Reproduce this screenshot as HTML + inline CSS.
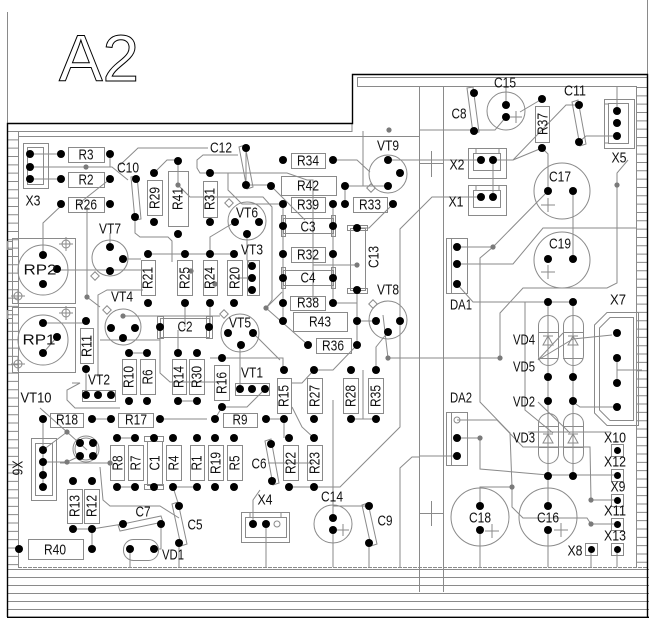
<!DOCTYPE html>
<html><head><meta charset="utf-8">
<style>
html,body{margin:0;padding:0;background:#fff;}
svg{display:block;}
.g{stroke:#8a8a8a;fill:none;stroke-width:1}
.k{stroke:#000;fill:none;stroke-width:1.4}
.p circle{fill:#000}
.v circle{fill:#7a7a7a}
text{font-family:"Liberation Sans",sans-serif;font-size:15px;fill:#111;text-anchor:middle;dominant-baseline:central}
</style></head><body>
<svg width="652" height="626" viewBox="0 0 652 626" xmlns="http://www.w3.org/2000/svg">
<rect width="652" height="626" fill="#fff"/>
<!-- frame -->
<g class="g">
<line x1="7.5" y1="12" x2="7.5" y2="123"/>
<line x1="647.5" y1="0" x2="647.5" y2="74"/>
<line x1="18.5" y1="131" x2="18.5" y2="567"/>
<line x1="636.5" y1="86" x2="636.5" y2="567"/>
<line x1="12.75" y1="131" x2="12.75" y2="567" stroke-width="11" stroke-dasharray="1 7.33"/>
<line x1="642" y1="87" x2="642" y2="567" stroke-width="11" stroke-dasharray="1 7.33"/>
<path d="M7,131.5 H352 V123 M18,136.5 H419"/>
<path d="M357.5,86 V77.5 H647 M357,86.5 H636"/>
<line x1="419.5" y1="86" x2="419.5" y2="592"/>
<line x1="443.5" y1="86" x2="443.5" y2="592"/>
<line x1="18" y1="567.5" x2="647" y2="567.5" stroke-dasharray="4 1"/>
<path d="M7,569.5 H649 M7,577.5 H649 M7,585.5 H649 M7,593.5 H649 M7,601.5 H649 M7,609.5 H649"/>
<path d="M419,163.5 H443 M431.5,151 V177 M419,513.5 H443 M431.5,501 V526"/>
</g>
<path class="k" d="M7.5,617 V123.5 H352.5 V74.5 H647.5 V617 M7,617.3 H649"/>

<!-- title -->
<text x="59" y="81" textLength="80" lengthAdjust="spacingAndGlyphs" style="font-size:66px;text-anchor:start;dominant-baseline:alphabetic;fill:none;stroke:#000;stroke-width:1">A2</text>

<!-- traces -->
<g class="g">
<path d="M30,154 H61 M30,179 H61 M30,167 H112 L128,180 M110,154 V167 M110,179 L77,205"/>
<path d="M120,165 L138,148 H208 M154,173 L167,160 H178 V185 L190,197 H263 L272,207 V300 L266,308"/>
<path d="M210,173 H200 L197,168 V160 L203,155 H238 M246,148 V185 H271 M210,173 H287 L307,180 H313 V300"/>
<path d="M228,173 V190 L242,204 H283 M271,186 L305,220 M333,160 H357 L370,172 M388,160 H481"/>
<path d="M345,186 V204 M345,186 H388 M393,204 L369,228 H357 M363,131 V186 M357,265 H313"/>
<path d="M283,204 V321 M333,204 V303 H357 V290 M357,290 V345 M357,321 H376"/>
<path d="M266,308 L308,345 M266,308 L282,292 M357,345 L333,370 H314 M314,370 L302,383 H291"/>
<path d="M388,332 L376,347 V370 M383,315 L388,358 H500 M210,358 H283 V370"/>
<path d="M400,321 V427 L340,487 H289 M352,419 H376 M363,370 V419 M333,400 V518 M266,419 H284 V438"/>
<path d="M314,438 L302,427 L292,407 M240,345 V389 M253,333 L280,360 M265,389 L247,407 H222 L215,419"/>
<path d="M62,205 L43,223 V255 M57,270 H148 M110,233 V247 M123,259 H141 M87,207 V297 L100,307"/>
<path d="M98,377 V295 L107,290 H143 M43,323 H86 M123,316 H220 M100,340 H160 M160,327 V373 L170,382 H220"/>
<path d="M178,330 V353 M57,337 L43,353 M86,370 V395 M129,353 H147 M178,401 H197"/>
<path d="M148,254 H234 M235,222 L210,237 V254 M247,234 V260 L252,266 M234,278 H252 M185,303 V327 M210,303 V327"/>
<path d="M135,217 V233 L140,237 H168 L172,241 V262"/>
<path d="M43,419 V487 M40,408 L67,432 L87,450 M67,432 L43,450 M43,462 H67 L80,456 M92,419 H111 M160,419 H207"/>
<path d="M60,463 H113 M117,438 H135 M117,487 H135 M173,487 H197 M73,529 H92 L123,524 M92,529 V549"/>
<path d="M100,467 L103,500 L110,506 H160 L179,518 M130,549 V567 M179,543 V567 M161,524 V549 H154 M173,487 L179,506"/>
<path d="M253,524 V500 L260,490 M266,524 V567 M333,530 V567 M369,543 V567 M369,506 H333 M268,463 H314"/>
<path d="M419,457 H412 L400,468 V567"/>
<path d="M420,160 H481 M493,160 V197 M481,197 H432 L400,229 V321"/>
<path d="M420,130 H495 L506,117 M506,105 V86 M520,112 L542,99 M493,160 H513 L566,105 H579 M542,148 L513,160"/>
<path d="M542,148 L548,154 V191 M579,142 L586,136 H617 M617,86 V111 M548,191 L493,247 H457 M493,247 L480,258 V402 L510,433 L512,487"/>
<path d="M573,191 V259 M457,264 H513 L543,228 H636 M628,160 L617,173 V283 L607,288 H523 L500,313 V358 M420,358 H500"/>
<path d="M457,284 L473,302 H573 M525,302 V410 L553,433 M548,302 V476 M573,302 V476 M612,335 L573,339 L538,360 M563,333 L538,360"/>
<path d="M573,402 L580,407 H617 M617,358 V383 M617,370 H642 M457,420 H497 L523,447 H590 L591,500 H617"/>
<path d="M457,438 H480 V469 L548,475 H617 M420,456 H457 M538,402 L570,433 M528,432 H611"/>
<path d="M512,487 H480 V506 M512,487 V507 L523,518 H587 L591,524 H617 M548,476 V506 M480,530 V567 M548,530 V567 M591,549 V567 M617,549 V567"/>
</g>

<!-- outlines -->
<g class="g">
<rect x="23.5" y="143.5" width="25" height="45"/><rect x="27.5" y="147.5" width="16" height="37"/>
<rect x="68.5" y="147.5" width="36" height="15"/><rect x="68.5" y="172.5" width="36" height="15"/><rect x="68.5" y="197.5" width="36" height="15"/>
<polygon points="131,177 137,176 141,219 135,220"/>
<rect x="147.5" y="180.5" width="15" height="35"/>
<rect x="168.5" y="171.5" width="20" height="55"/>
<rect x="203.5" y="181.5" width="14" height="36"/>
<polygon points="239,147 245,145 253,187 247,189"/>
<rect x="291.5" y="153.5" width="34" height="15"/>
<rect x="281.5" y="176.5" width="55" height="19"/>
<rect x="291.5" y="197.5" width="34" height="15"/>
<rect x="353.5" y="197.5" width="34" height="15"/>
<circle cx="388" cy="174" r="19"/><rect x="368" y="185" width="6" height="6" transform="rotate(45 371 188)"/>
<rect x="283.5" y="218.5" width="50" height="15"/><rect x="281.5" y="215.5" width="4" height="21"/><rect x="331.5" y="215.5" width="4" height="21"/>
<rect x="291.5" y="247.5" width="34" height="15"/>
<rect x="283.5" y="270.5" width="50" height="15"/><rect x="281.5" y="267.5" width="4" height="21"/><rect x="331.5" y="267.5" width="4" height="21"/>
<rect x="350.5" y="228.5" width="15" height="62"/><rect x="347.5" y="225.5" width="20" height="5"/><rect x="347.5" y="288.5" width="20" height="5"/>
<circle cx="247" cy="221" r="19"/><rect x="226" y="200" width="6" height="6" transform="rotate(45 229 203)"/>
<rect x="247.5" y="260.5" width="12" height="35"/>
<rect x="227.5" y="260.5" width="15" height="35"/>
<rect x="203.5" y="260.5" width="14" height="35"/>
<rect x="177.5" y="260.5" width="15" height="35"/>
<rect x="141.5" y="260.5" width="14" height="35"/>
<circle cx="110" cy="258" r="18"/><rect x="92" y="273" width="6" height="6" transform="rotate(45 95 276)"/>
<rect x="12.5" y="238.5" width="63" height="65"/><circle cx="43" cy="270" r="25"/><rect x="7.5" y="241.5" width="5" height="8"/>
<circle cx="66" cy="244" r="4"/><path d="M59,244 H73 M66,237 V251"/><circle cx="18" cy="296" r="4"/><path d="M11,296 H25 M18,289 V303"/>
<rect x="12.5" y="307.5" width="63" height="65"/><circle cx="43" cy="340" r="25"/><rect x="7.5" y="310.5" width="5" height="8"/>
<circle cx="66" cy="313" r="4"/><path d="M59,313 H73 M66,306 V320"/><circle cx="18" cy="364" r="4"/><path d="M11,364 H25 M18,357 V371"/>
<rect x="80.5" y="328.5" width="13" height="35"/>
<circle cx="123" cy="327" r="18"/><rect x="104" y="307" width="6" height="6" transform="rotate(45 107 310)"/>
<rect x="160.5" y="318.5" width="49" height="19"/><rect x="157.5" y="316.5" width="6" height="22"/><rect x="206.5" y="316.5" width="6" height="22"/>
<rect x="122.5" y="359.5" width="14" height="35"/><rect x="140.5" y="359.5" width="15" height="35"/>
<rect x="82.5" y="390.5" width="33" height="11"/>
<path d="M72,383 H80 L67,390 V400 L75,408 H120"/>
<rect x="172.5" y="359.5" width="14" height="35"/><rect x="189.5" y="359.5" width="15" height="35"/>
<rect x="214.5" y="365.5" width="15" height="35"/>
<rect x="235.5" y="383.5" width="34" height="12"/>
<rect x="223.5" y="413.5" width="34" height="14"/>
<rect x="118.5" y="413.5" width="35" height="14"/>
<rect x="50.5" y="413.5" width="33" height="14"/>
<circle cx="86" cy="449" r="13"/><circle cx="86" cy="449" r="11"/>
<rect x="31.5" y="438.5" width="25" height="62"/><rect x="35.5" y="443.5" width="17" height="52"/>
<rect x="110.5" y="445.5" width="14" height="35"/><rect x="128.5" y="445.5" width="15" height="35"/>
<rect x="147.5" y="441.5" width="15" height="44"/><rect x="144.5" y="436.5" width="19" height="5"/><rect x="144.5" y="484.5" width="19" height="5"/>
<rect x="166.5" y="445.5" width="15" height="35"/><rect x="190.5" y="445.5" width="14" height="35"/>
<rect x="208.5" y="445.5" width="15" height="35"/><rect x="227.5" y="445.5" width="15" height="35"/>
<rect x="67.5" y="489.5" width="15" height="34"/><rect x="84.5" y="489.5" width="15" height="34"/>
<rect x="28.5" y="539.5" width="55" height="20"/>
<polygon points="118,525 161,516 163,522 120,531"/>
<rect x="123.5" y="539.5" width="35" height="21" rx="10"/>
<polygon points="172,504 178,502 187,544 181,546"/>
<polygon points="265,441 271,439 279,483 273,485"/>
<rect x="283.5" y="445.5" width="15" height="35"/><rect x="307.5" y="445.5" width="15" height="35"/>
<rect x="241.5" y="512.5" width="48" height="30"/><rect x="245.5" y="517.5" width="41" height="20"/><path d="M250,512 V517 M281,512 V517"/><circle cx="277" cy="524" r="3"/>
<circle cx="333" cy="524" r="19"/><path d="M337,530 H349 M343,524 V536"/>
<polygon points="362,505 368,503 377,544 371,546"/>
<rect x="277.5" y="378.5" width="14" height="35"/><rect x="307.5" y="378.5" width="15" height="35"/>
<rect x="343.5" y="378.5" width="15" height="35"/><rect x="368.5" y="378.5" width="15" height="35"/>
<circle cx="240" cy="333" r="19"/><rect x="221" y="311" width="6" height="6" transform="rotate(45 224 314)"/>
<rect x="290.5" y="296.5" width="35" height="14"/>
<rect x="293.5" y="312.5" width="54" height="19"/>
<rect x="316.5" y="338.5" width="35" height="15"/>
<circle cx="388" cy="320" r="19"/><rect x="370" y="301" width="6" height="6" transform="rotate(45 373 304)"/>
<rect x="468.5" y="148.5" width="38" height="30"/><rect x="473.5" y="153.5" width="27" height="17"/><path d="M476,148 V153 M499,148 V153"/>
<rect x="468.5" y="185.5" width="38" height="30"/><rect x="473.5" y="190.5" width="27" height="17"/><path d="M476,185 V190 M499,185 V190"/>
<polygon points="467,88 473,87 479,132 473,133"/>
<circle cx="506" cy="111" r="19"/><path d="M510,117 H522 M516,111 V123"/>
<rect x="535.5" y="106.5" width="14" height="36"/>
<polygon points="572,102 578,100 586,144 580,146"/>
<rect x="604.5" y="99.5" width="30" height="49"/><rect x="608.5" y="103.5" width="20" height="40"/><path d="M604,104 H608 M604,143 H608"/>
<circle cx="562" cy="191" r="28"/><path d="M541,205 H555 M548,198 V212"/>
<circle cx="562" cy="260" r="28"/><path d="M541,272 H555 M548,265 V279"/>
<rect x="446.5" y="238.5" width="21" height="55"/><line x1="451.5" y1="238" x2="451.5" y2="293"/>
<rect x="446.5" y="412.5" width="21" height="53"/><line x1="451.5" y1="412" x2="451.5" y2="465"/><circle cx="457" cy="420" r="3"/>
<rect x="538.5" y="315.5" width="20" height="50" rx="10"/><rect x="563.5" y="315.5" width="20" height="50" rx="10"/>
<path d="M538,332.5 H558 M538,358.5 H558 M563,332.5 H583 M563,358.5 H583"/>
<path d="M543,345 H553 L548,336 Z M543,336 H553 M568,345 H578 L573,336 Z M568,336 H578"/>
<rect x="538.5" y="413.5" width="20" height="50" rx="10"/><rect x="563.5" y="413.5" width="20" height="50" rx="10"/>
<path d="M538,426.5 H558 M538,447.5 H558 M563,426.5 H583 M563,447.5 H583"/>
<path d="M543,443 H553 L548,434 Z M543,434 H553 M568,443 H578 L573,434 Z M568,434 H578"/>
<polygon points="607,312.5 638.5,312.5 638.5,425.5 607,425.5 594.5,413 594.5,325"/>
<polygon points="610,317.5 633.5,317.5 633.5,420.5 610,420.5 599.5,410 599.5,328"/>
<rect x="611.5" y="444.5" width="12" height="12"/><rect x="611.5" y="469.5" width="12" height="12"/>
<rect x="611.5" y="494.5" width="12" height="12"/><rect x="611.5" y="518.5" width="12" height="12"/>
<rect x="611.5" y="543.5" width="12" height="12"/><rect x="585.5" y="543.5" width="12" height="12"/>
<circle cx="480" cy="517" r="29"/><path d="M485,531 H499 M492,524 V538"/>
<circle cx="548" cy="517" r="29"/><path d="M554,530 H568 M561,523 V537"/>
</g>

<!-- vias -->
<g class="v">
<circle cx="86" cy="167" r="2.6"/><circle cx="178" cy="185" r="2.6"/><circle cx="191" cy="271" r="2.6"/>
<circle cx="215" cy="284" r="2.6"/><circle cx="123" cy="316" r="2.6"/><circle cx="87" cy="297" r="2.6"/>
<circle cx="266" cy="308" r="2.6"/><circle cx="357" cy="265" r="2.6"/><circle cx="389" cy="130" r="2.6"/>
<circle cx="388" cy="358" r="2.6"/><circle cx="500" cy="358" r="2.6"/><circle cx="493" cy="247" r="2.6"/>
<circle cx="617" cy="185" r="2.6"/><circle cx="480" cy="438" r="2.6"/><circle cx="591" cy="500" r="2.6"/>
<circle cx="512" cy="487" r="2.6"/><circle cx="591" cy="524" r="2.6"/><circle cx="67" cy="432" r="2.6"/>
<circle cx="67" cy="462" r="2.6"/><circle cx="110" cy="463" r="2.6"/>
</g>

<!-- pads -->
<g class="p">
<circle cx="30" cy="154" r="4"/><circle cx="30" cy="167" r="4"/><circle cx="30" cy="179" r="4"/>
<circle cx="61" cy="154" r="4"/><circle cx="110" cy="154" r="4"/>
<circle cx="61" cy="179" r="4"/><circle cx="110" cy="179" r="4"/>
<circle cx="61" cy="204" r="4"/><circle cx="110" cy="204" r="4"/>
<circle cx="136" cy="179" r="4"/><circle cx="135" cy="217" r="4"/>
<circle cx="154" cy="173" r="4"/><circle cx="154" cy="222" r="4"/>
<circle cx="178" cy="161" r="4"/><circle cx="178" cy="234" r="4"/>
<circle cx="210" cy="173" r="4"/><circle cx="210" cy="222" r="4"/>
<circle cx="246" cy="148" r="4"/><circle cx="246" cy="185" r="4"/>
<circle cx="283" cy="160" r="4"/><circle cx="333" cy="160" r="4"/>
<circle cx="271" cy="186" r="4"/><circle cx="345" cy="186" r="4"/>
<circle cx="283" cy="204" r="4"/><circle cx="333" cy="204" r="4"/>
<circle cx="345" cy="204" r="4"/><circle cx="393" cy="204" r="4"/>
<circle cx="388" cy="160" r="4"/><circle cx="400" cy="173" r="4"/><circle cx="388" cy="186" r="4"/>
<circle cx="283" cy="226" r="4"/><circle cx="333" cy="226" r="4"/>
<circle cx="283" cy="254" r="4"/><circle cx="333" cy="254" r="4"/>
<circle cx="283" cy="278" r="4"/><circle cx="333" cy="278" r="4"/>
<circle cx="357" cy="228" r="4"/><circle cx="357" cy="290" r="4"/>
<circle cx="235" cy="222" r="4"/><circle cx="259" cy="222" r="4"/><circle cx="247" cy="234" r="4"/>
<circle cx="252" cy="266" r="4"/><circle cx="252" cy="278" r="4"/><circle cx="252" cy="290" r="4"/>
<circle cx="234" cy="254" r="4"/><circle cx="234" cy="303" r="4"/>
<circle cx="210" cy="254" r="4"/><circle cx="210" cy="303" r="4"/>
<circle cx="185" cy="254" r="4"/><circle cx="185" cy="303" r="4"/>
<circle cx="148" cy="254" r="4"/><circle cx="148" cy="303" r="4"/>
<circle cx="110" cy="247" r="4"/><circle cx="123" cy="259" r="4"/><circle cx="110" cy="271" r="4"/>
<circle cx="43" cy="255" r="4"/><circle cx="57" cy="269" r="4"/><circle cx="43" cy="284" r="4"/>
<circle cx="43" cy="323" r="4"/><circle cx="57" cy="337" r="4"/><circle cx="43" cy="353" r="4"/>
<circle cx="86" cy="321" r="4"/><circle cx="86" cy="369" r="4"/>
<circle cx="111" cy="328" r="4"/><circle cx="135" cy="328" r="4"/><circle cx="123" cy="338" r="4"/>
<circle cx="160" cy="327" r="4"/><circle cx="209" cy="327" r="4"/>
<circle cx="129" cy="353" r="4"/><circle cx="129" cy="401" r="4"/>
<circle cx="147" cy="353" r="4"/><circle cx="147" cy="401" r="4"/>
<circle cx="86" cy="395" r="4"/><circle cx="98" cy="395" r="4"/><circle cx="111" cy="395" r="4"/>
<circle cx="178" cy="353" r="4"/><circle cx="178" cy="401" r="4"/>
<circle cx="197" cy="353" r="4"/><circle cx="197" cy="401" r="4"/>
<circle cx="222" cy="358" r="4"/><circle cx="222" cy="407" r="4"/>
<circle cx="240" cy="389" r="4"/><circle cx="252" cy="389" r="4"/><circle cx="265" cy="389" r="4"/>
<circle cx="215" cy="419" r="4"/><circle cx="266" cy="419" r="4"/>
<circle cx="111" cy="419" r="4"/><circle cx="160" cy="419" r="4"/>
<circle cx="43" cy="419" r="4"/><circle cx="92" cy="419" r="4"/>
<circle cx="80" cy="443" r="4"/><circle cx="93" cy="443" r="4"/><circle cx="80" cy="456" r="4"/><circle cx="93" cy="456" r="4"/>
<circle cx="43" cy="450" r="4"/><circle cx="43" cy="462" r="4"/><circle cx="43" cy="475" r="4"/><circle cx="43" cy="487" r="4"/>
<circle cx="117" cy="438" r="4"/><circle cx="135" cy="438" r="4"/><circle cx="154" cy="438" r="4"/><circle cx="173" cy="438" r="4"/>
<circle cx="197" cy="438" r="4"/><circle cx="215" cy="438" r="4"/><circle cx="234" cy="438" r="4"/>
<circle cx="117" cy="487" r="4"/><circle cx="135" cy="487" r="4"/><circle cx="154" cy="487" r="4"/><circle cx="173" cy="487" r="4"/>
<circle cx="197" cy="487" r="4"/><circle cx="215" cy="487" r="4"/><circle cx="234" cy="487" r="4"/>
<circle cx="73" cy="481" r="4"/><circle cx="73" cy="529" r="4"/>
<circle cx="92" cy="481" r="4"/><circle cx="92" cy="529" r="4"/>
<circle cx="19" cy="549" r="4"/><circle cx="92" cy="549" r="4"/>
<circle cx="123" cy="524" r="4"/><circle cx="161" cy="524" r="4"/>
<circle cx="130" cy="549" r="4"/><circle cx="154" cy="549" r="4"/>
<circle cx="179" cy="506" r="4"/><circle cx="179" cy="543" r="4"/>
<circle cx="271" cy="444" r="4"/><circle cx="272" cy="481" r="4"/>
<circle cx="289" cy="438" r="4"/><circle cx="289" cy="487" r="4"/>
<circle cx="314" cy="438" r="4"/><circle cx="314" cy="487" r="4"/>
<circle cx="253" cy="524" r="4"/><circle cx="266" cy="524" r="4"/>
<circle cx="333" cy="518" r="4"/><circle cx="333" cy="530" r="4"/>
<circle cx="369" cy="506" r="4"/><circle cx="369" cy="543" r="4"/>
<circle cx="284" cy="370" r="4"/><circle cx="284" cy="419" r="4"/>
<circle cx="314" cy="370" r="4"/><circle cx="314" cy="419" r="4"/>
<circle cx="351" cy="370" r="4"/><circle cx="351" cy="419" r="4"/>
<circle cx="376" cy="370" r="4"/><circle cx="376" cy="419" r="4"/>
<circle cx="228" cy="333" r="4"/><circle cx="253" cy="333" r="4"/><circle cx="241" cy="345" r="4"/>
<circle cx="283" cy="303" r="4"/><circle cx="333" cy="303" r="4"/>
<circle cx="283" cy="321" r="4"/><circle cx="357" cy="321" r="4"/>
<circle cx="308" cy="345" r="4"/><circle cx="357" cy="345" r="4"/>
<circle cx="376" cy="321" r="4"/><circle cx="400" cy="321" r="4"/><circle cx="388" cy="332" r="4"/>
<circle cx="481" cy="160" r="4"/><circle cx="493" cy="160" r="4"/>
<circle cx="481" cy="197" r="4"/><circle cx="493" cy="197" r="4"/>
<circle cx="474" cy="93" r="4"/><circle cx="474" cy="131" r="4"/>
<circle cx="506" cy="105" r="4"/><circle cx="506" cy="117" r="4"/>
<circle cx="542" cy="99" r="4"/><circle cx="542" cy="148" r="4"/>
<circle cx="579" cy="105" r="4"/><circle cx="579" cy="142" r="4"/>
<circle cx="617" cy="111" r="4"/><circle cx="617" cy="123" r="4"/><circle cx="617" cy="136" r="4"/>
<circle cx="548" cy="191" r="4"/><circle cx="573" cy="191" r="4"/>
<circle cx="548" cy="259" r="4"/><circle cx="573" cy="259" r="4"/>
<circle cx="457" cy="247" r="4"/><circle cx="457" cy="264" r="4"/><circle cx="457" cy="284" r="4"/>
<circle cx="457" cy="438" r="4"/><circle cx="457" cy="456" r="4"/>
<circle cx="548" cy="302" r="4"/><circle cx="573" cy="302" r="4"/>
<circle cx="548" cy="377" r="4"/><circle cx="573" cy="377" r="4"/>
<circle cx="548" cy="401" r="4"/><circle cx="573" cy="401" r="4"/>
<circle cx="548" cy="476" r="4"/><circle cx="573" cy="476" r="4"/>
<circle cx="617" cy="333" r="4"/><circle cx="617" cy="358" r="4"/><circle cx="617" cy="383" r="4"/><circle cx="617" cy="407" r="4"/>
<circle cx="617.5" cy="450.5" r="3.5"/><circle cx="617.5" cy="475.5" r="3.5"/><circle cx="617.5" cy="500.5" r="3.5"/>
<circle cx="617.5" cy="524.5" r="3.5"/><circle cx="617.5" cy="549.5" r="3.5"/><circle cx="591.5" cy="549.5" r="3.5"/>
<circle cx="480" cy="506" r="4"/><circle cx="480" cy="530" r="4"/>
<circle cx="548" cy="506" r="4"/><circle cx="548" cy="530" r="4"/>
</g>

<!-- labels -->
<g>
<text x="33" y="201" textLength="15" lengthAdjust="spacingAndGlyphs">X3</text>
<text x="86" y="155" textLength="15" lengthAdjust="spacingAndGlyphs">R3</text>
<text x="86" y="180" textLength="15" lengthAdjust="spacingAndGlyphs">R2</text>
<text x="86" y="205" textLength="22" lengthAdjust="spacingAndGlyphs">R26</text>
<text x="128" y="168" textLength="22" lengthAdjust="spacingAndGlyphs">C10</text>
<text x="221" y="148" textLength="22" lengthAdjust="spacingAndGlyphs">C12</text>
<text x="308" y="161" textLength="22" lengthAdjust="spacingAndGlyphs">R34</text>
<text x="308" y="186" textLength="22" lengthAdjust="spacingAndGlyphs">R42</text>
<text x="308" y="205" textLength="22" lengthAdjust="spacingAndGlyphs">R39</text>
<text x="370" y="205" textLength="22" lengthAdjust="spacingAndGlyphs">R33</text>
<text x="388" y="146" textLength="22" lengthAdjust="spacingAndGlyphs">VT9</text>
<text x="308" y="227" textLength="15" lengthAdjust="spacingAndGlyphs">C3</text>
<text x="308" y="255" textLength="22" lengthAdjust="spacingAndGlyphs">R32</text>
<text x="308" y="278" textLength="15" lengthAdjust="spacingAndGlyphs">C4</text>
<text x="247" y="213" textLength="22" lengthAdjust="spacingAndGlyphs">VT6</text>
<text x="252" y="250" textLength="22" lengthAdjust="spacingAndGlyphs">VT3</text>
<text x="110" y="229" textLength="22" lengthAdjust="spacingAndGlyphs">VT7</text>
<text x="40" y="270" textLength="33" lengthAdjust="spacingAndGlyphs">RP2</text>
<text x="39" y="340" textLength="33" lengthAdjust="spacingAndGlyphs">RP1</text>
<text x="122" y="297" textLength="22" lengthAdjust="spacingAndGlyphs">VT4</text>
<text x="185" y="327" textLength="15" lengthAdjust="spacingAndGlyphs">C2</text>
<text x="99" y="380" textLength="22" lengthAdjust="spacingAndGlyphs">VT2</text>
<text x="252" y="373" textLength="22" lengthAdjust="spacingAndGlyphs">VT1</text>
<text x="240" y="323" textLength="22" lengthAdjust="spacingAndGlyphs">VT5</text>
<text x="308" y="303" textLength="22" lengthAdjust="spacingAndGlyphs">R38</text>
<text x="320" y="322" textLength="22" lengthAdjust="spacingAndGlyphs">R43</text>
<text x="333" y="346" textLength="22" lengthAdjust="spacingAndGlyphs">R36</text>
<text x="388" y="290" textLength="22" lengthAdjust="spacingAndGlyphs">VT8</text>
<text x="240" y="420" textLength="15" lengthAdjust="spacingAndGlyphs">R9</text>
<text x="136" y="420" textLength="22" lengthAdjust="spacingAndGlyphs">R17</text>
<text x="67" y="420" textLength="22" lengthAdjust="spacingAndGlyphs">R18</text>
<text x="36" y="398" textLength="31" lengthAdjust="spacingAndGlyphs">VT10</text>
<text x="259" y="464" textLength="15" lengthAdjust="spacingAndGlyphs">C6</text>
<text x="265" y="500" textLength="15" lengthAdjust="spacingAndGlyphs">X4</text>
<text x="332" y="497" textLength="22" lengthAdjust="spacingAndGlyphs">C14</text>
<text x="385" y="521" textLength="15" lengthAdjust="spacingAndGlyphs">C9</text>
<text x="143" y="512" textLength="15" lengthAdjust="spacingAndGlyphs">C7</text>
<text x="195" y="525" textLength="15" lengthAdjust="spacingAndGlyphs">C5</text>
<text x="55" y="550" textLength="22" lengthAdjust="spacingAndGlyphs">R40</text>
<text x="173" y="555" textLength="22" lengthAdjust="spacingAndGlyphs">VD1</text>
<text x="505" y="83" textLength="22" lengthAdjust="spacingAndGlyphs">C15</text>
<text x="459" y="114" textLength="15" lengthAdjust="spacingAndGlyphs">C8</text>
<text x="575" y="91" textLength="22" lengthAdjust="spacingAndGlyphs">C11</text>
<text x="457" y="165" textLength="15" lengthAdjust="spacingAndGlyphs">X2</text>
<text x="456" y="202" textLength="15" lengthAdjust="spacingAndGlyphs">X1</text>
<text x="619" y="158" textLength="15" lengthAdjust="spacingAndGlyphs">X5</text>
<text x="560" y="177" textLength="22" lengthAdjust="spacingAndGlyphs">C17</text>
<text x="560" y="244" textLength="22" lengthAdjust="spacingAndGlyphs">C19</text>
<text x="461" y="305" textLength="22" lengthAdjust="spacingAndGlyphs">DA1</text>
<text x="461" y="398" textLength="22" lengthAdjust="spacingAndGlyphs">DA2</text>
<text x="618" y="300" textLength="16" lengthAdjust="spacingAndGlyphs">X7</text>
<text x="524" y="340" textLength="22" lengthAdjust="spacingAndGlyphs">VD4</text>
<text x="524" y="367" textLength="22" lengthAdjust="spacingAndGlyphs">VD5</text>
<text x="524" y="402" textLength="22" lengthAdjust="spacingAndGlyphs">VD2</text>
<text x="524" y="438" textLength="22" lengthAdjust="spacingAndGlyphs">VD3</text>
<text x="615" y="438" textLength="22" lengthAdjust="spacingAndGlyphs">X10</text>
<text x="615" y="462" textLength="22" lengthAdjust="spacingAndGlyphs">X12</text>
<text x="618" y="487" textLength="15" lengthAdjust="spacingAndGlyphs">X9</text>
<text x="615" y="511" textLength="22" lengthAdjust="spacingAndGlyphs">X11</text>
<text x="615" y="536" textLength="22" lengthAdjust="spacingAndGlyphs">X13</text>
<text x="575" y="551" textLength="15" lengthAdjust="spacingAndGlyphs">X8</text>
<text x="480" y="518" textLength="22" lengthAdjust="spacingAndGlyphs">C18</text>
<text x="548" y="518" textLength="22" lengthAdjust="spacingAndGlyphs">C16</text>

<text x="155" y="198" textLength="22" lengthAdjust="spacingAndGlyphs" transform="rotate(-90 155 198)">R29</text>
<text x="178" y="199" textLength="22" lengthAdjust="spacingAndGlyphs" transform="rotate(-90 178 199)">R41</text>
<text x="210" y="199" textLength="22" lengthAdjust="spacingAndGlyphs" transform="rotate(-90 210 199)">R31</text>
<text x="374" y="257" textLength="22" lengthAdjust="spacingAndGlyphs" transform="rotate(-90 374 257)">C13</text>
<text x="148" y="278" textLength="22" lengthAdjust="spacingAndGlyphs" transform="rotate(-90 148 278)">R21</text>
<text x="185" y="278" textLength="22" lengthAdjust="spacingAndGlyphs" transform="rotate(-90 185 278)">R25</text>
<text x="210" y="278" textLength="22" lengthAdjust="spacingAndGlyphs" transform="rotate(-90 210 278)">R24</text>
<text x="235" y="278" textLength="22" lengthAdjust="spacingAndGlyphs" transform="rotate(-90 235 278)">R20</text>
<text x="87" y="346" textLength="22" lengthAdjust="spacingAndGlyphs" transform="rotate(-90 87 346)">R11</text>
<text x="129" y="377" textLength="22" lengthAdjust="spacingAndGlyphs" transform="rotate(-90 129 377)">R10</text>
<text x="148" y="377" textLength="15" lengthAdjust="spacingAndGlyphs" transform="rotate(-90 148 377)">R6</text>
<text x="179" y="377" textLength="22" lengthAdjust="spacingAndGlyphs" transform="rotate(-90 179 377)">R14</text>
<text x="197" y="377" textLength="22" lengthAdjust="spacingAndGlyphs" transform="rotate(-90 197 377)">R30</text>
<text x="222" y="383" textLength="22" lengthAdjust="spacingAndGlyphs" transform="rotate(-90 222 383)">R16</text>
<text x="284" y="396" textLength="22" lengthAdjust="spacingAndGlyphs" transform="rotate(-90 284 396)">R15</text>
<text x="315" y="396" textLength="22" lengthAdjust="spacingAndGlyphs" transform="rotate(-90 315 396)">R27</text>
<text x="351" y="396" textLength="22" lengthAdjust="spacingAndGlyphs" transform="rotate(-90 351 396)">R28</text>
<text x="376" y="396" textLength="22" lengthAdjust="spacingAndGlyphs" transform="rotate(-90 376 396)">R35</text>
<text x="118" y="463" textLength="15" lengthAdjust="spacingAndGlyphs" transform="rotate(-90 118 463)">R8</text>
<text x="136" y="463" textLength="15" lengthAdjust="spacingAndGlyphs" transform="rotate(-90 136 463)">R7</text>
<text x="155" y="463" textLength="15" lengthAdjust="spacingAndGlyphs" transform="rotate(-90 155 463)">C1</text>
<text x="174" y="463" textLength="15" lengthAdjust="spacingAndGlyphs" transform="rotate(-90 174 463)">R4</text>
<text x="197" y="463" textLength="15" lengthAdjust="spacingAndGlyphs" transform="rotate(-90 197 463)">R1</text>
<text x="216" y="463" textLength="22" lengthAdjust="spacingAndGlyphs" transform="rotate(-90 216 463)">R19</text>
<text x="235" y="463" textLength="15" lengthAdjust="spacingAndGlyphs" transform="rotate(-90 235 463)">R5</text>
<text x="75" y="506" textLength="22" lengthAdjust="spacingAndGlyphs" transform="rotate(-90 75 506)">R13</text>
<text x="92" y="506" textLength="22" lengthAdjust="spacingAndGlyphs" transform="rotate(-90 92 506)">R12</text>
<text x="291" y="463" textLength="22" lengthAdjust="spacingAndGlyphs" transform="rotate(-90 291 463)">R22</text>
<text x="315" y="463" textLength="22" lengthAdjust="spacingAndGlyphs" transform="rotate(-90 315 463)">R23</text>
<text x="543" y="124" textLength="22" lengthAdjust="spacingAndGlyphs" transform="rotate(-90 543 124)">R37</text>
<text x="17" y="468" textLength="15" lengthAdjust="spacingAndGlyphs" transform="rotate(90 17 468)">X6</text>
</g>
</svg>
</body></html>
